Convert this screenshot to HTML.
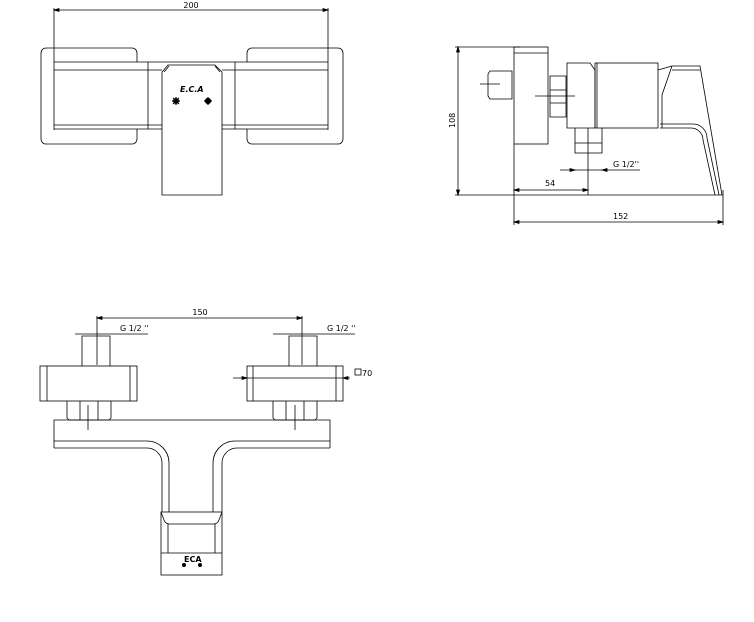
<!DOCTYPE html>
<html><head><meta charset="utf-8"><style>
html,body{margin:0;padding:0;background:#fff}
svg{display:block}
text{font-family:"DejaVu Sans","Liberation Sans",sans-serif;font-size:8px;fill:#000}
</style></head><body>
<svg width="754" height="622" viewBox="0 0 754 622" fill="none" stroke="#000" stroke-width="0.8">
<!-- TOP VIEW -->
<line x1="54" y1="8" x2="54" y2="130"/><line x1="328" y1="8" x2="328" y2="130"/>
<line x1="54" y1="10" x2="328" y2="10"/>
<path d="M54 10l5-1.5v3zM328 10l-5-1.5v3z" fill="#000"/>
<text x="191" y="8" text-anchor="middle" stroke="none">200</text>
<path d="M137 62V53a5 5 0 0 0-5-5H46a5 5 0 0 0-5 5v86a5 5 0 0 0 5 5h86a5 5 0 0 0 5-5v-10"/>
<path d="M247 62V53a5 5 0 0 1 5-5h86a5 5 0 0 1 5 5v86a5 5 0 0 1-5 5h-86a5 5 0 0 1-5-5v-10"/>
<line x1="54" y1="62" x2="328" y2="62"/><line x1="54" y1="70" x2="162" y2="70"/><line x1="222" y1="70" x2="328" y2="70"/>
<line x1="54" y1="125" x2="162" y2="125"/><line x1="222" y1="125" x2="328" y2="125"/>
<line x1="54" y1="129" x2="162" y2="129"/><line x1="222" y1="129" x2="328" y2="129"/>
<line x1="148" y1="62" x2="148" y2="129"/><line x1="235" y1="62" x2="235" y2="129"/>
<path d="M162 195V72l6-7h47l7 7v123z"/>
<path d="M164 72l5-6M220 72l-5-6"/>
<text x="180" y="92" stroke="none" font-style="italic" font-weight="bold" font-size="7">E.C.A</text>
<g stroke-width="1.2"><circle cx="176" cy="101" r="2.3" fill="#000"/><path d="M172 101h8M176 97v8M173 98l6 6M179 98l-6 6"/>
<circle cx="208" cy="101" r="2.5" fill="#000"/><path d="M204 101h8M208 97v8"/></g>
<!-- SIDE VIEW -->
<line x1="455" y1="47" x2="520" y2="47"/><line x1="455" y1="195" x2="723" y2="195"/>
<line x1="458" y1="47" x2="458" y2="195"/>
<path d="M458 47l-1.5 5h3zM458 195l-1.5-5h3z" fill="#000"/>
<text x="0" y="0" stroke="none" transform="translate(455 128) rotate(-90)">108</text>
<rect x="514" y="47" width="34" height="97"/><line x1="514" y1="53" x2="548" y2="53"/>
<line x1="514" y1="144" x2="514" y2="225"/><line x1="723" y1="190" x2="723" y2="225"/>
<path d="M512 71h-22l-2 3v22l2 3h22z"/><line x1="480" y1="84" x2="500" y2="84"/>
<path d="M550 76h16v41h-16zM550 90h16M550 103h16"/><line x1="535" y1="96" x2="575" y2="96"/>
<path d="M567 63h23l5 7v58h-28z"/>
<rect x="595" y="63" width="63" height="65"/><line x1="597" y1="63" x2="597" y2="128"/>
<path d="M658 70l14-4h28l22 129"/>
<path d="M672 66l-10 29v33M672 70h28"/>
<path d="M660 124h33a14 14 0 0 1 14 14l12 57M660 128h31a12 12 0 0 1 12 12l12 55"/>
<path d="M575 128v25h27v-25M575 143h27"/><line x1="588" y1="128" x2="588" y2="195"/>
<line x1="560" y1="170" x2="640" y2="170"/><path d="M575 170l-5-1.5v3zM602 170l5-1.5v3z" fill="#000"/>
<text x="613" y="167" stroke="none">G 1/2''</text>
<line x1="514" y1="190" x2="588" y2="190"/><path d="M514 190l5-1.5v3zM588 190l-5-1.5v3z" fill="#000"/>
<text x="545" y="186" stroke="none">54</text>
<line x1="514" y1="222" x2="723" y2="222"/><path d="M514 222l5-1.5v3zM723 222l-5-1.5v3z" fill="#000"/>
<text x="613" y="219" stroke="none">152</text>
<!-- FRONT VIEW -->
<line x1="97" y1="316" x2="97" y2="365"/><line x1="302" y1="316" x2="302" y2="365"/>
<line x1="97" y1="318" x2="302" y2="318"/>
<path d="M97 318l5-1.5v3zM302 318l-5-1.5v3z" fill="#000"/>
<text x="200" y="315" text-anchor="middle" stroke="none">150</text>
<line x1="75" y1="334" x2="148" y2="334"/><text x="120" y="331" stroke="none">G 1/2 ''</text>
<line x1="273" y1="334" x2="355" y2="334"/><text x="327" y="331" stroke="none">G 1/2 ''</text>
<path d="M82 366v-30h28v30M289 366v-30h28v30"/>
<rect x="40" y="366" width="97" height="35"/><line x1="47" y1="366" x2="47" y2="401"/><line x1="130" y1="366" x2="130" y2="401"/>
<rect x="247" y="366" width="96" height="35"/><line x1="253" y1="366" x2="253" y2="401"/><line x1="336" y1="366" x2="336" y2="401"/>
<line x1="233" y1="378" x2="350" y2="378"/><path d="M247 378l-5-1.5v3zM343 378l5-1.5v3z" fill="#000"/>
<rect x="355" y="369" width="6" height="6"/><text x="362" y="376" stroke="none">70</text>
<path d="M67 401v17l2 2h40l2-2v-17M80 401v19M98 401v19"/>
<path d="M273 401v17l2 2h40l2-2v-17M286 401v19M304 401v19"/>
<line x1="88" y1="405" x2="88" y2="430"/><line x1="295" y1="405" x2="295" y2="430"/>
<path d="M54 448V420h276v28"/>
<path d="M54 441h93a22 22 0 0 1 22 22v49"/>
<path d="M54 448h93a15 15 0 0 1 15 15v49"/>
<path d="M330 441h-95a22 22 0 0 0-22 22v49"/>
<path d="M330 448h-93a15 15 0 0 0-15 15v49"/>
<rect x="161" y="512" width="61" height="63"/>
<path d="M161 512l3 8a6 6 0 0 0 5 4h45a6 6 0 0 0 5-4l3-8M168 524v29M215 524v29M161 553h61"/>
<text x="184" y="562" stroke="none" font-size="5" font-weight="bold">ECA</text>
<circle cx="184" cy="565" r="1.6" fill="#000"/><circle cx="200" cy="565" r="1.6" fill="#000"/>
</svg>
</body></html>
